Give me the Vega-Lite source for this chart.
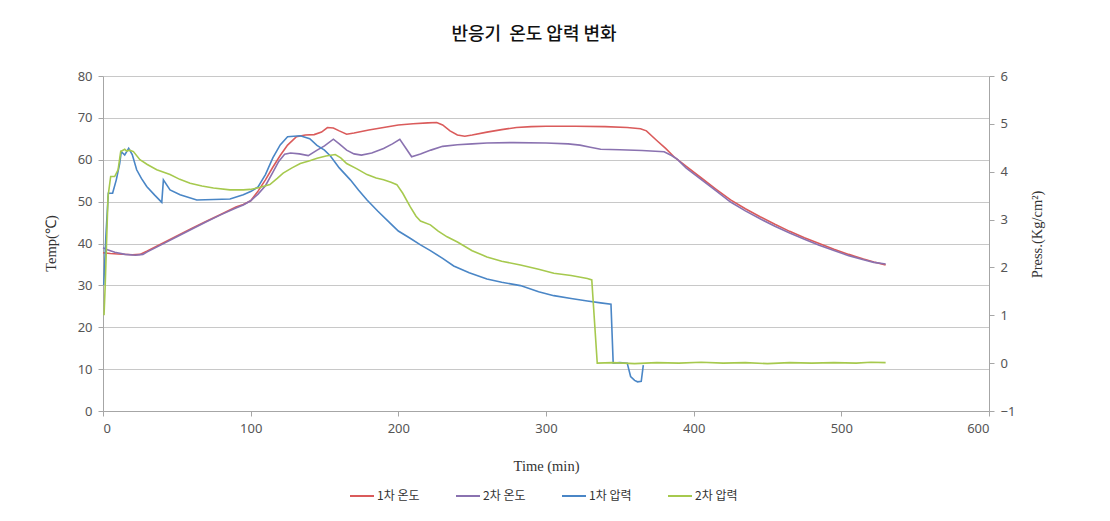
{
  "$schema": "https://vega.github.io/schema/vega-lite/v6.json",
  "width": 886,
  "height": 335,
  "autosize": {"type": "none"},
  "padding": {"left": 103, "top": 76, "right": 121, "bottom": 110},
  "background": "white",
  "title": {"text": "반응기\u00a0\u00a0온도 압력 변화", "font": "Noto Sans CJK KR", "fontSize": 18, "fontWeight": 500, "color": "#111111", "offset": 26, "anchor": "middle", "dx": -12},
  "config": {
    "view": {"stroke": null},
    "axis": {"labelFont": "Noto Sans", "labelFontSize": 13, "labelColor": "#555555", "titleFont": "Liberation Serif", "titleFontSize": 14.5, "titleFontWeight": "normal", "titleColor": "#333333", "domainColor": "#a6a6a6", "tickColor": "#a6a6a6", "tickSize": 5, "gridColor": "#c8c8c8", "gridWidth": 1.2}
  },
  "datasets": {
    "temp": [
      {"s": "1차 온도", "t": 0, "v": 37.8}, {"s": "1차 온도", "t": 5, "v": 37.6}, {"s": "1차 온도", "t": 10, "v": 37.5}, {"s": "1차 온도", "t": 20, "v": 37.3}, {"s": "1차 온도", "t": 25, "v": 37.4}, {"s": "1차 온도", "t": 30, "v": 38.2}, {"s": "1차 온도", "t": 40, "v": 40.0}, {"s": "1차 온도", "t": 50, "v": 41.8}, {"s": "1차 온도", "t": 60, "v": 43.6}, {"s": "1차 온도", "t": 70, "v": 45.3}, {"s": "1차 온도", "t": 80, "v": 47.0}, {"s": "1차 온도", "t": 90, "v": 48.7}, {"s": "1차 온도", "t": 95, "v": 49.3}, {"s": "1차 온도", "t": 100, "v": 50.2}, {"s": "1차 온도", "t": 105, "v": 52.5}, {"s": "1차 온도", "t": 110, "v": 55.2}, {"s": "1차 온도", "t": 115, "v": 58.2}, {"s": "1차 온도", "t": 120, "v": 61.0}, {"s": "1차 온도", "t": 125, "v": 63.5}, {"s": "1차 온도", "t": 131, "v": 65.5}, {"s": "1차 온도", "t": 137, "v": 65.9}, {"s": "1차 온도", "t": 143, "v": 66.0}, {"s": "1차 온도", "t": 148, "v": 66.6}, {"s": "1차 온도", "t": 152, "v": 67.7}, {"s": "1차 온도", "t": 156, "v": 67.6}, {"s": "1차 온도", "t": 160, "v": 66.9}, {"s": "1차 온도", "t": 165, "v": 66.1}, {"s": "1차 온도", "t": 170, "v": 66.4}, {"s": "1차 온도", "t": 180, "v": 67.1}, {"s": "1차 온도", "t": 190, "v": 67.7}, {"s": "1차 온도", "t": 200, "v": 68.3}, {"s": "1차 온도", "t": 210, "v": 68.6}, {"s": "1차 온도", "t": 220, "v": 68.8}, {"s": "1차 온도", "t": 226, "v": 68.9}, {"s": "1차 온도", "t": 230, "v": 68.3}, {"s": "1차 온도", "t": 235, "v": 66.9}, {"s": "1차 온도", "t": 240, "v": 65.9}, {"s": "1차 온도", "t": 245, "v": 65.6}, {"s": "1차 온도", "t": 250, "v": 65.9}, {"s": "1차 온도", "t": 260, "v": 66.6}, {"s": "1차 온도", "t": 270, "v": 67.2}, {"s": "1차 온도", "t": 280, "v": 67.7}, {"s": "1차 온도", "t": 290, "v": 67.9}, {"s": "1차 온도", "t": 300, "v": 68.0}, {"s": "1차 온도", "t": 320, "v": 68.0}, {"s": "1차 온도", "t": 340, "v": 67.9}, {"s": "1차 온도", "t": 355, "v": 67.7}, {"s": "1차 온도", "t": 364, "v": 67.4}, {"s": "1차 온도", "t": 368, "v": 66.9}, {"s": "1차 온도", "t": 375, "v": 64.6}, {"s": "1차 온도", "t": 381, "v": 62.7}, {"s": "1차 온도", "t": 387, "v": 60.6}, {"s": "1차 온도", "t": 395, "v": 58.4}, {"s": "1차 온도", "t": 405, "v": 55.7}, {"s": "1차 온도", "t": 415, "v": 53.0}, {"s": "1차 온도", "t": 425, "v": 50.4}, {"s": "1차 온도", "t": 435, "v": 48.3}, {"s": "1차 온도", "t": 445, "v": 46.4}, {"s": "1차 온도", "t": 455, "v": 44.6}, {"s": "1차 온도", "t": 465, "v": 42.9}, {"s": "1차 온도", "t": 475, "v": 41.4}, {"s": "1차 온도", "t": 485, "v": 40.0}, {"s": "1차 온도", "t": 495, "v": 38.6}, {"s": "1차 온도", "t": 505, "v": 37.4}, {"s": "1차 온도", "t": 515, "v": 36.3}, {"s": "1차 온도", "t": 522, "v": 35.6}, {"s": "1차 온도", "t": 530, "v": 34.9},
      {"s": "2차 온도", "t": 0, "v": 39.0}, {"s": "2차 온도", "t": 3, "v": 38.5}, {"s": "2차 온도", "t": 8, "v": 37.9}, {"s": "2차 온도", "t": 15, "v": 37.4}, {"s": "2차 온도", "t": 22, "v": 37.2}, {"s": "2차 온도", "t": 27, "v": 37.4}, {"s": "2차 온도", "t": 30, "v": 38.0}, {"s": "2차 온도", "t": 40, "v": 39.8}, {"s": "2차 온도", "t": 50, "v": 41.6}, {"s": "2차 온도", "t": 60, "v": 43.4}, {"s": "2차 온도", "t": 70, "v": 45.2}, {"s": "2차 온도", "t": 80, "v": 46.9}, {"s": "2차 온도", "t": 90, "v": 48.5}, {"s": "2차 온도", "t": 95, "v": 49.2}, {"s": "2차 온도", "t": 100, "v": 50.2}, {"s": "2차 온도", "t": 105, "v": 51.8}, {"s": "2차 온도", "t": 110, "v": 53.8}, {"s": "2차 온도", "t": 115, "v": 57.0}, {"s": "2차 온도", "t": 119, "v": 59.6}, {"s": "2차 온도", "t": 123, "v": 61.3}, {"s": "2차 온도", "t": 127, "v": 61.6}, {"s": "2차 온도", "t": 133, "v": 61.4}, {"s": "2차 온도", "t": 139, "v": 61.0}, {"s": "2차 온도", "t": 145, "v": 62.3}, {"s": "2차 온도", "t": 150, "v": 63.3}, {"s": "2차 온도", "t": 156, "v": 64.9}, {"s": "2차 온도", "t": 160, "v": 63.8}, {"s": "2차 온도", "t": 165, "v": 62.3}, {"s": "2차 온도", "t": 170, "v": 61.4}, {"s": "2차 온도", "t": 175, "v": 61.1}, {"s": "2차 온도", "t": 182, "v": 61.6}, {"s": "2차 온도", "t": 190, "v": 62.7}, {"s": "2차 온도", "t": 196, "v": 63.8}, {"s": "2차 온도", "t": 201, "v": 64.9}, {"s": "2차 온도", "t": 205, "v": 62.8}, {"s": "2차 온도", "t": 209, "v": 60.7}, {"s": "2차 온도", "t": 215, "v": 61.4}, {"s": "2차 온도", "t": 222, "v": 62.3}, {"s": "2차 온도", "t": 230, "v": 63.2}, {"s": "2차 온도", "t": 240, "v": 63.6}, {"s": "2차 온도", "t": 250, "v": 63.8}, {"s": "2차 온도", "t": 260, "v": 64.0}, {"s": "2차 온도", "t": 278, "v": 64.1}, {"s": "2차 온도", "t": 300, "v": 64.0}, {"s": "2차 온도", "t": 315, "v": 63.8}, {"s": "2차 온도", "t": 323, "v": 63.5}, {"s": "2차 온도", "t": 330, "v": 63.0}, {"s": "2차 온도", "t": 337, "v": 62.5}, {"s": "2차 온도", "t": 350, "v": 62.4}, {"s": "2차 온도", "t": 365, "v": 62.2}, {"s": "2차 온도", "t": 380, "v": 61.9}, {"s": "2차 온도", "t": 385, "v": 61.0}, {"s": "2차 온도", "t": 389, "v": 60.1}, {"s": "2차 온도", "t": 395, "v": 58.0}, {"s": "2차 온도", "t": 405, "v": 55.3}, {"s": "2차 온도", "t": 415, "v": 52.6}, {"s": "2차 온도", "t": 425, "v": 49.9}, {"s": "2차 온도", "t": 435, "v": 47.8}, {"s": "2차 온도", "t": 445, "v": 45.9}, {"s": "2차 온도", "t": 455, "v": 44.1}, {"s": "2차 온도", "t": 465, "v": 42.5}, {"s": "2차 온도", "t": 475, "v": 41.0}, {"s": "2차 온도", "t": 485, "v": 39.6}, {"s": "2차 온도", "t": 495, "v": 38.3}, {"s": "2차 온도", "t": 505, "v": 37.1}, {"s": "2차 온도", "t": 515, "v": 36.1}, {"s": "2차 온도", "t": 522, "v": 35.5}, {"s": "2차 온도", "t": 530, "v": 35.1}
    ],
    "press": [
      {"s": "1차 압력", "t": 0.5, "v": 1.63}, {"s": "1차 압력", "t": 2, "v": 2.68}, {"s": "1차 압력", "t": 3.6, "v": 3.55}, {"s": "1차 압력", "t": 6.5, "v": 3.55}, {"s": "1차 압력", "t": 9, "v": 3.83}, {"s": "1차 압력", "t": 11.3, "v": 4.17}, {"s": "1차 압력", "t": 12.4, "v": 4.42}, {"s": "1차 압력", "t": 14.7, "v": 4.35}, {"s": "1차 압력", "t": 17.4, "v": 4.49}, {"s": "1차 압력", "t": 19.8, "v": 4.36}, {"s": "1차 압력", "t": 22.8, "v": 4.04}, {"s": "1차 압력", "t": 26, "v": 3.86}, {"s": "1차 압력", "t": 29.6, "v": 3.69}, {"s": "1차 압력", "t": 35, "v": 3.51}, {"s": "1차 압력", "t": 39.8, "v": 3.36}, {"s": "1차 압력", "t": 40.9, "v": 3.83}, {"s": "1차 압력", "t": 45.4, "v": 3.62}, {"s": "1차 압력", "t": 52.2, "v": 3.52}, {"s": "1차 압력", "t": 63.5, "v": 3.41}, {"s": "1차 압력", "t": 75, "v": 3.42}, {"s": "1차 압력", "t": 86, "v": 3.43}, {"s": "1차 압력", "t": 95, "v": 3.52}, {"s": "1차 압력", "t": 100.3, "v": 3.59}, {"s": "1차 압력", "t": 105, "v": 3.68}, {"s": "1차 압력", "t": 110, "v": 3.94}, {"s": "1차 압력", "t": 115, "v": 4.29}, {"s": "1차 압력", "t": 120, "v": 4.56}, {"s": "1차 압력", "t": 125, "v": 4.73}, {"s": "1차 압력", "t": 133.6, "v": 4.75}, {"s": "1차 압력", "t": 140, "v": 4.69}, {"s": "1차 압력", "t": 144.9, "v": 4.55}, {"s": "1차 압력", "t": 150, "v": 4.45}, {"s": "1차 압력", "t": 154, "v": 4.33}, {"s": "1차 압력", "t": 160, "v": 4.08}, {"s": "1차 압력", "t": 167.5, "v": 3.83}, {"s": "1차 압력", "t": 173, "v": 3.62}, {"s": "1차 압력", "t": 178.8, "v": 3.41}, {"s": "1차 압력", "t": 186, "v": 3.18}, {"s": "1차 압력", "t": 194.6, "v": 2.92}, {"s": "1차 압력", "t": 200, "v": 2.76}, {"s": "1차 압력", "t": 208, "v": 2.61}, {"s": "1차 압력", "t": 215, "v": 2.47}, {"s": "1차 압력", "t": 221.7, "v": 2.35}, {"s": "1차 압력", "t": 230, "v": 2.19}, {"s": "1차 압력", "t": 237.5, "v": 2.03}, {"s": "1차 압력", "t": 248, "v": 1.89}, {"s": "1차 압력", "t": 260, "v": 1.76}, {"s": "1차 압력", "t": 270, "v": 1.69}, {"s": "1차 압력", "t": 282.7, "v": 1.62}, {"s": "1차 압력", "t": 295, "v": 1.49}, {"s": "1차 압력", "t": 305.3, "v": 1.41}, {"s": "1차 압력", "t": 317, "v": 1.35}, {"s": "1차 압력", "t": 328, "v": 1.30}, {"s": "1차 압력", "t": 337, "v": 1.26}, {"s": "1차 압력", "t": 344, "v": 1.23}, {"s": "1차 압력", "t": 345.5, "v": 0.0}, {"s": "1차 압력", "t": 350, "v": 0.01}, {"s": "1차 압력", "t": 355, "v": 0.0}, {"s": "1차 압력", "t": 357.3, "v": -0.28}, {"s": "1차 압력", "t": 360, "v": -0.36}, {"s": "1차 압력", "t": 362, "v": -0.39}, {"s": "1차 압력", "t": 364.5, "v": -0.38}, {"s": "1차 압력", "t": 365.9, "v": -0.04},
      {"s": "2차 압력", "t": 0.7, "v": 1.0}, {"s": "2차 압력", "t": 1.5, "v": 1.63}, {"s": "2차 압력", "t": 3.4, "v": 3.48}, {"s": "2차 압력", "t": 5.2, "v": 3.9}, {"s": "2차 압력", "t": 7.9, "v": 3.9}, {"s": "2차 압력", "t": 10.2, "v": 4.04}, {"s": "2차 압력", "t": 12, "v": 4.42}, {"s": "2차 압력", "t": 14.7, "v": 4.47}, {"s": "2차 압력", "t": 16, "v": 4.43}, {"s": "2차 압력", "t": 18, "v": 4.45}, {"s": "2차 압력", "t": 20.6, "v": 4.42}, {"s": "2차 압력", "t": 25, "v": 4.25}, {"s": "2차 압력", "t": 30, "v": 4.15}, {"s": "2차 압력", "t": 36.4, "v": 4.04}, {"s": "2차 압력", "t": 45.4, "v": 3.94}, {"s": "2차 압력", "t": 52, "v": 3.84}, {"s": "2차 압력", "t": 59, "v": 3.76}, {"s": "2차 압력", "t": 67, "v": 3.70}, {"s": "2차 압력", "t": 74.8, "v": 3.66}, {"s": "2차 압력", "t": 86, "v": 3.62}, {"s": "2차 압력", "t": 95, "v": 3.62}, {"s": "2차 압력", "t": 99.7, "v": 3.63}, {"s": "2차 압력", "t": 106, "v": 3.67}, {"s": "2차 압력", "t": 113, "v": 3.73}, {"s": "2차 압력", "t": 118, "v": 3.86}, {"s": "2차 압력", "t": 122, "v": 3.97}, {"s": "2차 압력", "t": 128, "v": 4.08}, {"s": "2차 압력", "t": 133.6, "v": 4.17}, {"s": "2차 압력", "t": 140, "v": 4.23}, {"s": "2차 압력", "t": 145, "v": 4.28}, {"s": "2차 압력", "t": 151, "v": 4.33}, {"s": "2차 압력", "t": 157.3, "v": 4.36}, {"s": "2차 압력", "t": 161, "v": 4.29}, {"s": "2차 압력", "t": 165, "v": 4.17}, {"s": "2차 압력", "t": 172, "v": 4.06}, {"s": "2차 압력", "t": 178.8, "v": 3.94}, {"s": "2차 압력", "t": 185, "v": 3.87}, {"s": "2차 압력", "t": 190, "v": 3.83}, {"s": "2차 압력", "t": 195, "v": 3.78}, {"s": "2차 압력", "t": 199, "v": 3.73}, {"s": "2차 압력", "t": 203, "v": 3.55}, {"s": "2차 압력", "t": 208, "v": 3.27}, {"s": "2차 압력", "t": 212, "v": 3.07}, {"s": "2차 압력", "t": 215, "v": 2.97}, {"s": "2차 압력", "t": 221.7, "v": 2.89}, {"s": "2차 압력", "t": 227, "v": 2.76}, {"s": "2차 압력", "t": 233, "v": 2.64}, {"s": "2차 압력", "t": 240, "v": 2.53}, {"s": "2차 압력", "t": 250, "v": 2.35}, {"s": "2차 압력", "t": 260, "v": 2.22}, {"s": "2차 압력", "t": 270, "v": 2.13}, {"s": "2차 압력", "t": 282.7, "v": 2.05}, {"s": "2차 압력", "t": 295, "v": 1.96}, {"s": "2차 압력", "t": 305.3, "v": 1.88}, {"s": "2차 압력", "t": 317, "v": 1.83}, {"s": "2차 압력", "t": 328, "v": 1.77}, {"s": "2차 압력", "t": 331, "v": 1.74}, {"s": "2차 압력", "t": 334.7, "v": 0.0}, {"s": "2차 압력", "t": 345, "v": 0.01}, {"s": "2차 압력", "t": 360, "v": -0.01}, {"s": "2차 압력", "t": 375, "v": 0.01}, {"s": "2차 압력", "t": 390, "v": 0.0}, {"s": "2차 압력", "t": 405, "v": 0.02}, {"s": "2차 압력", "t": 420, "v": 0.0}, {"s": "2차 압력", "t": 435, "v": 0.01}, {"s": "2차 압력", "t": 450, "v": -0.01}, {"s": "2차 압력", "t": 465, "v": 0.01}, {"s": "2차 압력", "t": 480, "v": 0.0}, {"s": "2차 압력", "t": 495, "v": 0.01}, {"s": "2차 압력", "t": 510, "v": 0.0}, {"s": "2차 압력", "t": 520, "v": 0.02}, {"s": "2차 압력", "t": 530, "v": 0.01}
    ]
  },
  "layer": [
    {
      "data": {"name": "temp"},
      "mark": {"type": "line", "strokeWidth": 1.6},
      "encoding": {
        "x": {"field": "t", "type": "quantitative", "scale": {"domain": [0, 600], "nice": false}, "axis": {"title": "Time (min)", "values": [0, 100, 200, 300, 400, 500, 600], "grid": false, "labelPadding": 6, "titleX": 443, "titleY": 55, "titleBaseline": "middle", "titleAlign": "center"}},
        "y": {"field": "v", "type": "quantitative", "scale": {"domain": [0, 80], "nice": false}, "axis": {"orient": "left", "title": "Temp(℃)", "values": [0, 10, 20, 30, 40, 50, 60, 70, 80], "grid": true, "labelPadding": 6, "titleX": -52, "titleY": 167, "titleAngle": 270, "titleBaseline": "middle", "titleAlign": "center"}},
        "color": {"field": "s", "type": "nominal", "scale": {"domain": ["1차 온도", "2차 온도", "1차 압력", "2차 압력"], "range": ["#DA5B5B", "#8A72B0", "#4A86C6", "#A6C94E"]}, "legend": {"title": null, "orient": "none", "direction": "horizontal", "legendX": 246, "legendY": 407, "symbolType": "stroke", "symbolSize": 576, "symbolStrokeWidth": 2, "labelFont": "Noto Sans CJK KR", "labelFontSize": 12, "labelColor": "#333333", "labelOffset": 2, "columnPadding": 32}}
      }
    },
    {
      "data": {"name": "press"},
      "mark": {"type": "line", "strokeWidth": 1.6},
      "encoding": {
        "x": {"field": "t", "type": "quantitative", "scale": {"domain": [0, 600], "nice": false}},
        "y": {"field": "v", "type": "quantitative", "scale": {"domain": [-1, 6], "nice": false}, "axis": {"orient": "right", "title": "Press.(Kg/cm²)", "values": [-1, 0, 1, 2, 3, 4, 5, 6], "grid": false, "labelPadding": 6, "titleX": 48, "titleY": 158, "titleAngle": 270, "titleBaseline": "middle", "titleAlign": "center"}},
        "color": {"field": "s", "type": "nominal"}
      }
    }
  ],
  "resolve": {"scale": {"y": "independent"}}
}
